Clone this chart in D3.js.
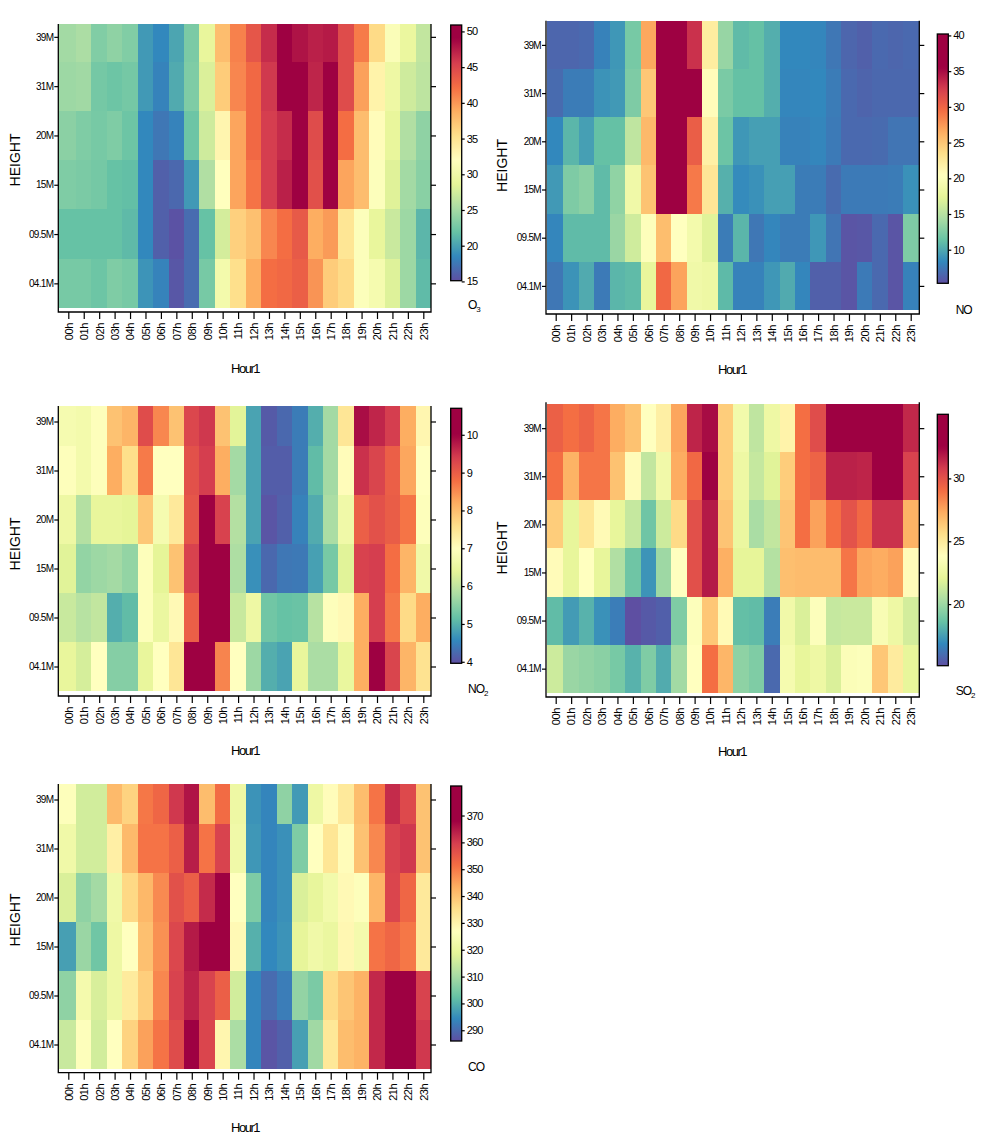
<!DOCTYPE html>
<html><head><meta charset="utf-8">
<script src="https://cdn.jsdelivr.net/npm/d3@7"></script>
<style>
body{margin:0;background:#fff}
text{font-family:"Liberation Sans",Arial,sans-serif;fill:#000}
</style>
</head><body><svg id="c" width="989" height="1148"></svg>
<script>
const hours = ["00h","01h","02h","03h","04h","05h","06h","07h","08h","09h","10h","11h","12h","13h","14h","15h","16h","17h","18h","19h","20h","21h","22h","23h"];
const heights = ["39M","31M","20M","15M","09.5M","04.1M"];

const o3 = [
 [24.9,25.3,23.2,23.9,23.2,19.5,18.5,20.2,22.9,29.0,37.8,41.2,43.9,46.6,50.0,48.0,47.3,47.6,44.6,41.5,35.8,31.4,29.3,26.6],
 [24.6,24.8,22.6,22.2,22.6,19.5,18.2,20.5,23.1,28.0,36.8,40.9,42.6,45.9,50.3,50.5,47.0,50.6,44.6,39.5,33.4,29.7,27.3,26.3],
 [23.7,23.1,22.7,23.1,22.2,18.5,17.5,18.2,22.2,27.3,33.1,39.3,42.6,45.6,46.6,49.8,44.6,50.4,42.2,37.8,32.4,29.0,25.6,23.9],
 [23.1,22.9,22.6,21.9,21.7,18.5,16.1,16.6,19.5,25.6,32.1,39.3,41.9,45.6,47.3,49.5,44.3,50.7,39.3,37.8,31.7,28.3,24.9,23.6],
 [21.9,21.9,21.9,21.9,21.4,18.5,16.1,15.3,16.8,21.9,27.6,36.5,37.6,40.9,42.2,43.6,38.8,39.8,34.8,31.7,29.0,27.0,24.6,21.2],
 [22.7,22.7,22.2,23.1,22.7,19.2,18.2,15.6,16.8,22.7,30.4,35.4,38.8,42.2,42.6,43.2,40.2,36.8,35.8,31.7,30.7,28.2,24.6,21.5]
];
const no = [
 [6.5,6.5,6.7,8.0,9.1,12.1,26.7,38.0,38.0,33.1,22.2,13.5,11.0,11.3,10.3,8.3,8.3,8.2,7.4,6.5,6.2,6.7,6.5,6.7],
 [6.8,7.7,7.7,8.9,9.2,12.4,24.9,38.0,38.0,36.0,20.7,12.2,11.3,11.3,10.3,8.2,8.2,8.3,7.7,6.7,6.4,6.6,6.6,6.6],
 [8.3,10.7,9.5,11.3,11.3,15.4,25.8,38.0,38.0,30.4,21.9,11.6,9.1,9.5,9.5,8.0,8.0,8.2,7.6,6.7,6.7,6.8,7.3,7.3],
 [9.2,12.4,12.9,11.0,13.2,18.6,25.2,38.0,38.0,28.9,22.8,10.4,8.5,8.8,9.5,9.5,7.7,7.7,6.8,7.6,7.6,7.6,7.7,8.8],
 [8.2,11.0,11.0,11.0,13.6,16.2,20.1,25.5,20.4,18.9,17.1,7.7,10.7,7.4,8.2,7.7,7.7,9.1,7.3,5.6,5.7,6.7,5.6,12.4],
 [7.4,8.9,10.1,7.6,10.7,11.0,17.7,29.8,26.9,18.6,18.3,10.9,8.0,8.0,9.1,10.1,8.2,6.2,6.2,5.6,7.6,6.7,5.6,8.0]
];
const no2 = [
 [6.74,6.68,6.92,7.95,8.10,9.21,8.55,7.95,9.28,9.46,7.95,6.35,4.84,4.08,4.23,4.44,4.96,5.71,7.46,9.88,9.64,9.40,8.19,7.16],
 [6.92,6.68,6.92,8.19,7.58,8.67,6.98,6.98,9.15,9.40,8.19,5.71,4.84,4.11,4.11,4.44,5.11,5.71,7.04,9.52,9.31,8.97,8.25,6.98],
 [6.56,5.86,6.44,6.44,6.38,7.89,6.74,7.40,9.09,10.3,9.34,5.86,4.84,4.02,4.14,4.50,4.93,5.77,6.62,8.97,9.15,9.00,8.73,6.92],
 [6.32,5.56,5.65,5.71,5.56,6.92,6.38,7.95,9.34,10.3,10.3,5.80,4.65,4.23,4.38,4.41,4.81,5.32,6.32,9.34,9.40,8.79,8.10,6.62],
 [6.07,5.89,6.01,4.96,5.11,6.92,6.50,7.10,8.97,10.3,10.3,6.07,6.56,5.26,5.17,5.20,5.89,6.92,7.10,8.19,9.40,8.70,7.64,8.19],
 [6.44,6.20,6.98,5.44,5.44,6.44,6.98,7.46,10.3,10.3,8.58,6.98,5.65,4.96,4.84,6.44,5.77,5.77,6.47,8.19,10.4,9.31,8.10,7.52]
];
const so2 = [
 [29.5,29.0,29.4,28.8,27.3,26.6,23.8,24.7,27.5,31.5,32.2,26.2,22.9,20.9,22.6,24.5,29.0,30.2,33.5,33.5,33.5,33.5,33.5,31.4],
 [29.0,27.1,28.8,28.8,26.6,24.0,21.0,22.8,27.3,29.2,33.0,26.2,22.6,21.1,21.9,26.2,29.0,29.4,31.6,31.6,31.5,33.5,33.5,30.6],
 [26.2,22.2,25.2,24.1,22.2,21.1,18.8,21.3,25.7,30.1,31.8,26.5,22.4,20.3,21.0,26.5,29.0,27.6,29.0,30.0,29.2,31.1,31.1,27.1],
 [24.0,22.2,23.8,22.2,20.5,18.8,17.2,20.0,23.8,30.1,31.8,27.2,22.1,22.1,20.6,26.7,26.8,26.8,26.8,28.8,27.5,27.3,27.6,24.0],
 [18.4,17.4,18.1,17.1,16.5,15.1,15.4,15.6,19.2,23.6,26.4,24.1,18.5,18.4,16.5,22.8,21.7,23.6,21.1,21.2,21.2,23.3,22.6,21.5],
 [21.3,19.9,19.7,19.5,19.0,18.1,19.2,17.9,20.1,23.8,29.0,27.0,19.6,19.2,15.9,23.1,22.2,22.6,21.7,23.5,23.6,26.4,24.9,22.2]
];
const co = [
 [326.2,315.9,315.9,341.4,337.3,350.4,352.8,360.6,365.5,341.0,352.0,321.3,295.8,293.8,307.3,296.7,321.3,327.8,332.7,341.0,350.8,362.3,357.8,340.1],
 [322.1,315.9,315.9,331.1,341.4,350.8,350.8,354.1,364.3,350.8,359.0,322.1,296.3,293.8,295.4,305.3,327.0,333.6,327.8,340.1,348.3,359.0,360.6,340.1],
 [317.2,307.3,309.8,322.1,336.4,341.8,347.9,356.5,354.1,362.3,370.0,327.0,305.3,293.8,295.4,317.2,319.6,322.9,328.6,326.2,342.2,358.6,352.8,332.7],
 [297.5,308.6,303.6,321.3,327.0,340.5,347.1,358.2,364.7,370.0,370.0,328.6,299.9,294.2,295.8,319.2,322.1,320.4,329.0,323.3,350.8,352.8,350.4,332.7],
 [307.3,323.3,316.8,321.3,332.3,338.1,348.3,359.0,363.5,359.0,354.1,315.9,293.8,290.1,292.6,307.7,304.9,336.0,339.7,342.6,362.7,370.0,370.0,359.0],
 [314.7,326.2,315.9,327.0,337.3,345.0,350.8,357.3,370.0,358.6,329.5,310.6,293.8,286.8,288.5,297.5,309.4,333.2,341.0,342.6,362.7,370.0,370.0,360.6]
];

const o3Ticks = [15,20,25,30,35,40,45,50];
const noTicks = [10,15,20,25,30,35,40];
const no2Ticks = [4,5,6,7,8,9,10];
const so2Ticks = [20,25,30];
const coTicks = [290,300,310,320,330,340,350,360,370];

// reversed RColorBrewer Spectral, linearly interpolated (like colorRampPalette)
const spectralRev = ["#5e4fa2","#3288bd","#66c2a5","#abdda4","#e6f598","#ffffbf","#fee08b","#fdae61","#f46d43","#d53e4f","#9e0142"];

const STEP = 15.435;
const L = {left:58.3, right:431, tick0:68.3, barX:450.7, titleX:468, ylabX:15, xlabX:245};
const R = {left:546, right:919.3, tick0:555.7, barX:937.3, titleX:955.7, ylabX:502, xlabX:732};

const panels = [
 {id:"o3", data:o3, name:"O", sub:"3", lo:15.1, sat:49, hi:50.9, ticks:o3Ticks, col:L,
  top:24, yB:308, rowH:49.3, axisY:312, barY0:25, barY1:280.7, titleY:309, ylabY:160, xlabY:373},
 {id:"no", data:no, name:"NO", sub:"", lo:5.3, sat:35.5, hi:40.2, ticks:noTicks, col:R,
  top:20.7, yB:310, rowH:48.2, axisY:314, barY0:34, barY1:283.3, titleY:314, ylabY:165.5, xlabY:374},
 {id:"no2", data:no2, name:"NO", sub:"2", lo:3.96, sat:10.0, hi:10.7, ticks:no2Ticks, col:L,
  top:406, yB:691, rowH:49, axisY:696, barY0:408.3, barY1:663.3, titleY:693, ylabY:544, xlabY:755},
 {id:"so2", data:so2, name:"SO", sub:"2", lo:15.1, sat:32.5, hi:35.1, ticks:so2Ticks, col:R,
  top:402.3, yB:692.7, rowH:48.1, axisY:697, barY0:414.3, barY1:665.7, titleY:695, ylabY:548, xlabY:756},
 {id:"co", data:co, name:"CO", sub:"", lo:286, sat:368, hi:381, ticks:coTicks, col:L,
  top:784, yB:1069, rowH:49, axisY:1072.7, barY0:786, barY1:1041, titleY:1071, ylabY:920, xlabY:1132}
];

const svg = d3.select("#c");
const defs = svg.append("defs");
const FONT = '"Liberation Sans",Arial,sans-serif';

panels.forEach(p => {
  const c = p.col;
  const g = svg.append("g");
  const x = d3.scaleLinear().domain([0, 23]).range([c.tick0, c.tick0 + 23 * STEP]);
  const y = d3.scaleLinear().domain([0, 6]).range([p.yB, p.yB - 6 * p.rowH]);
  const color = d3.scaleLinear()
    .domain(spectralRev.map((_, i) => p.lo + (p.sat - p.lo) * i / (spectralRev.length - 1)))
    .range(spectralRev).interpolate(d3.interpolateRgb).clamp(true);

  const cells = [];
  p.data.forEach((row, r) => row.forEach((v, ci) => cells.push({r, ci, v})));
  g.append("g").selectAll("rect").data(cells).join("rect")
    .attr("x", d => d.ci === 0 ? c.left + 1 : x(d.ci - 0.5))
    .attr("width", d => x(d.ci + 0.5) - (d.ci === 0 ? c.left + 1 : x(d.ci - 0.5)) + 0.3)
    .attr("y", d => Math.max(p.top, y(6 - d.r)))
    .attr("height", d => y(5 - d.r) - Math.max(p.top, y(6 - d.r)) + 0.3)
    .attr("fill", d => color(d.v))
    .attr("shape-rendering", "crispEdges");

  // frame
  g.append("path")
    .attr("d", `M${c.left},${p.top}V${p.axisY}H${c.right}V${p.top}`)
    .attr("fill", "none").attr("stroke", "#000").attr("stroke-width", 1.3);

  // bottom axis
  const ax = g.append("g").attr("transform", `translate(0,${p.axisY})`)
    .call(d3.axisBottom(x).tickValues(d3.range(24)).tickFormat(i => hours[i]).tickSize(7).tickSizeOuter(0));
  ax.select(".domain").remove();
  ax.selectAll("line").attr("stroke-width", 1.2);
  ax.selectAll("text")
    .attr("transform", "rotate(-90)")
    .attr("x", -11).attr("y", 0).attr("dy", "0.35em")
    .attr("text-anchor", "end")
    .style("font-size", "11px").style("letter-spacing", "-0.4px")
    .style("font-family", FONT);

  const yt = [0.5, 1.5, 2.5, 3.5, 4.5, 5.5];
  const ay = g.append("g").attr("transform", `translate(${c.left},0)`)
    .call(d3.axisLeft(y).tickValues(yt).tickFormat(v => heights[5 - Math.floor(v)]).tickSize(4).tickPadding(1).tickSizeOuter(0));
  ay.select(".domain").remove();
  ay.selectAll("line").attr("stroke-width", 1.2);
  ay.selectAll("text").style("font-size", "10px").style("letter-spacing", "-0.7px")
    .style("font-family", FONT);

  const ar = g.append("g").attr("transform", `translate(${c.right},0)`)
    .call(d3.axisRight(y).tickValues(yt).tickFormat("").tickSize(5).tickSizeOuter(0));
  ar.select(".domain").remove();
  ar.selectAll("line").attr("stroke-width", 1.2);

  // axis titles
  g.append("text").attr("transform", `translate(${c.ylabX},${p.ylabY}) rotate(-90)`)
    .attr("text-anchor", "middle").attr("dy", "0.35em")
    .style("font-size", "14px").text("HEIGHT");
  g.append("text").attr("x", c.xlabX).attr("y", p.xlabY)
    .attr("text-anchor", "middle").style("font-size", "13px").style("letter-spacing", "-1.5px")
    .text("Hour1");

  // colorbar
  const cb = d3.scaleLinear().domain([p.lo, p.hi]).range([p.barY1, p.barY0]);
  const gid = "grad-" + p.id;
  const grad = defs.append("linearGradient").attr("id", gid)
    .attr("x1", 0).attr("y1", 1).attr("x2", 0).attr("y2", 0);
  d3.range(81).forEach(k => {
    const v = p.lo + (p.hi - p.lo) * k / 80;
    grad.append("stop").attr("offset", k / 80).attr("stop-color", color(v));
  });
  g.append("rect").attr("x", c.barX).attr("y", p.barY0)
    .attr("width", 11).attr("height", p.barY1 - p.barY0)
    .attr("fill", `url(#${gid})`).attr("stroke", "#000").attr("stroke-width", 1.3);
  const ac = g.append("g").attr("transform", `translate(${c.barX + 11},0)`)
    .call(d3.axisRight(cb).tickValues(p.ticks).tickFormat(d3.format("d")).tickSize(3).tickPadding(2).tickSizeOuter(0));
  ac.select(".domain").remove();
  ac.selectAll("line").attr("stroke-width", 1.2);
  ac.selectAll("text").style("font-size", "11px").style("letter-spacing", "-0.8px")
    .style("font-family", FONT);

  const t = g.append("text").attr("x", c.titleX).attr("y", p.titleY)
    .style("font-size", "12px").style("letter-spacing", "-1px");
  t.append("tspan").text(p.name);
  if (p.sub) t.append("tspan").attr("dy", 3).style("font-size", "8px").text(p.sub);
});
</script>
</body></html>
